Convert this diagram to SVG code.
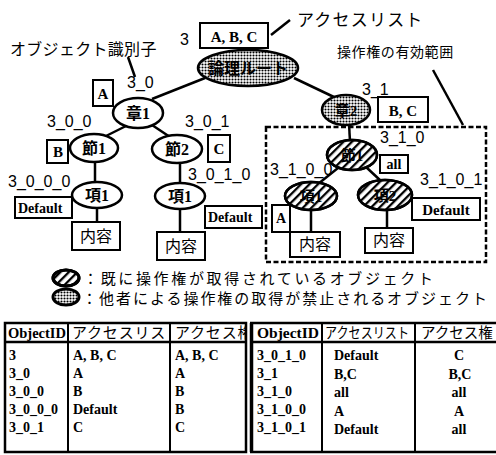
<svg xmlns="http://www.w3.org/2000/svg" width="496" height="455" viewBox="0 0 496 455">
<defs>
<style>
.ln{stroke:#000;stroke-width:2.5;fill:none}
.thin{stroke:#000;stroke-width:2;fill:none}
.box{fill:#fff;stroke:#000;stroke-width:2}
.nd{stroke:#000;stroke-width:2.5}
.wh{fill:#fff}
.lbl{font-family:"Liberation Sans",Arial,sans-serif;font-size:16px;fill:#000}
.jp{font-family:"Noto Sans CJK JP","Noto Sans CJK SC",sans-serif;fill:#000}
.sr{font-family:"Liberation Serif","Noto Sans CJK JP",serif;font-weight:bold;fill:#000}
.tb{font-family:"Liberation Serif","Noto Sans CJK JP",serif;font-weight:bold;font-size:14px;fill:#000}
.th{font-family:"Liberation Serif","Noto Sans CJK JP",serif;font-weight:bold;font-size:14px;fill:#000}
.mid{text-anchor:middle}
</style>
<pattern id="dots" width="3" height="3" patternUnits="userSpaceOnUse"><rect width="3" height="3" fill="#fff"/><circle cx="1.5" cy="1.5" r="1.05" fill="#000"/></pattern>
<pattern id="hatch" width="6" height="6" patternUnits="userSpaceOnUse" patternTransform="rotate(45)"><line x1="1" y1="0" x2="1" y2="6" stroke="#000" stroke-width="2.6"/></pattern>
<clipPath id="c1"><rect x="68" y="323" width="102" height="19"/></clipPath>
<clipPath id="c2"><rect x="170" y="323" width="76" height="19"/></clipPath>
</defs>

<g id="connectors">
<line class="ln" x1="152" y1="99" x2="205" y2="78"/>
<line class="ln" x1="294" y1="78" x2="336" y2="98"/>
<line class="ln" x1="126" y1="126" x2="104" y2="137"/>
<line class="ln" x1="152" y1="125" x2="170" y2="137"/>
<line class="ln" x1="95" y1="161" x2="95" y2="183"/>
<line class="ln" x1="97" y1="207" x2="97" y2="223"/>
<line class="ln" x1="180" y1="162" x2="180" y2="184"/>
<line class="ln" x1="180" y1="208" x2="180" y2="233"/>
<line class="ln" x1="349" y1="124" x2="350" y2="141"/>
<line class="ln" x1="338" y1="168" x2="318" y2="184"/>
<line class="ln" x1="366" y1="167" x2="381" y2="181"/>
<line class="ln" x1="311" y1="209" x2="311" y2="233"/>
<line class="ln" x1="387" y1="209" x2="387" y2="229"/>
</g>

<g id="annotations">
<text class="jp" x="297" y="26" font-size="17" letter-spacing="1.2">アクセスリスト</text>
<line class="ln" x1="290" y1="20" x2="271" y2="35"/>
<text class="jp" x="10" y="55" font-size="16" letter-spacing="0.3">オブジェクト識別子</text>
<line class="ln" x1="128" y1="57" x2="135" y2="77"/>
</g>

<g id="scope">
<rect x="266" y="127" width="220" height="135" fill="none" stroke="#000" stroke-width="2.5" stroke-dasharray="5 2.5"/>
<text class="jp" x="337" y="57" font-size="14" letter-spacing="0.6">操作権の有効範囲</text>
<line class="ln" x1="433" y1="70" x2="463" y2="125"/>
</g>

<g id="n3">
<text class="lbl" x="180" y="45">3</text>
<rect class="box" x="200" y="23" width="68" height="25"/>
<text class="sr mid" x="234" y="42" font-size="15">A, B, C</text>
<ellipse class="nd" cx="248" cy="68" rx="50" ry="18" fill="url(#dots)"/>
<text class="sr mid" x="248" y="74" font-size="16">論理ルート</text>
</g>

<g id="n3_0">
<text class="lbl" x="127" y="88">3_0</text>
<rect class="box" x="93" y="80" width="20" height="26"/>
<text class="sr mid" x="103" y="99" font-size="15">A</text>
<ellipse class="nd wh" cx="138" cy="113" rx="25" ry="15"/>
<text class="sr mid" x="138" y="119" font-size="16">章1</text>
</g>

<g id="n3_0_0">
<text class="lbl" x="47" y="127">3_0_0</text>
<rect class="box" x="47" y="140" width="21" height="23"/>
<text class="sr mid" x="58" y="157" font-size="15">B</text>
<ellipse class="nd wh" cx="94" cy="148" rx="24" ry="14"/>
<text class="sr mid" x="94" y="154" font-size="16">節1</text>
</g>

<g id="n3_0_1">
<text class="lbl" x="185" y="127">3_0_1</text>
<rect class="box" x="208" y="135" width="22" height="27"/>
<text class="sr mid" x="219" y="154" font-size="15">C</text>
<ellipse class="nd wh" cx="177" cy="149" rx="25" ry="14"/>
<text class="sr mid" x="177" y="155" font-size="16">節2</text>
</g>

<g id="n3_0_0_0">
<text class="lbl" x="8" y="187">3_0_0_0</text>
<ellipse class="nd wh" cx="97" cy="195" rx="25" ry="13"/>
<text class="sr mid" x="97" y="201" font-size="16">項1</text>
<rect class="box" x="15" y="197" width="57" height="21"/>
<text class="sr" x="18" y="213" font-size="14">Default</text>
<rect class="box" x="72" y="222" width="48" height="28"/>
<text class="jp mid" x="96" y="242" font-size="16">内容</text>
</g>

<g id="n3_0_1_0">
<text class="lbl" x="188" y="180">3_0_1_0</text>
<ellipse class="nd wh" cx="180" cy="196" rx="25" ry="13"/>
<text class="sr mid" x="180" y="202" font-size="16">項1</text>
<rect class="box" x="205" y="206" width="57" height="22"/>
<text class="sr" x="208" y="222" font-size="14">Default</text>
<rect class="box" x="157" y="232" width="48" height="28"/>
<text class="jp mid" x="181" y="252" font-size="16">内容</text>
</g>

<g id="n3_1">
<text class="lbl" x="362" y="95">3_1</text>
<ellipse class="nd" cx="346" cy="110" rx="24" ry="15" fill="url(#dots)"/>
<text class="sr mid" x="346" y="116" font-size="15">章2</text>
<rect class="box" x="378" y="97" width="50" height="25"/>
<text class="sr mid" x="403" y="116" font-size="15">B, C</text>
</g>

<g id="n3_1_0">
<text class="lbl" x="380" y="143">3_1_0</text>
<ellipse class="nd wh" cx="352" cy="155" rx="25" ry="15"/>
<text class="sr mid" x="352" y="161" font-size="15">節1</text>
<ellipse class="nd" cx="352" cy="155" rx="25" ry="15" fill="url(#hatch)"/>
<rect class="box" x="380" y="155" width="28" height="18"/>
<text class="sr mid" x="394" y="169" font-size="14">all</text>
</g>

<g id="n3_1_0_0">
<text class="lbl" x="270" y="175">3_1_0_0</text>
<ellipse class="nd wh" cx="311" cy="196" rx="26" ry="14"/>
<text class="sr mid" x="311" y="202" font-size="15">項1</text>
<ellipse class="nd" cx="311" cy="196" rx="26" ry="14" fill="url(#hatch)"/>
<rect class="box" x="272" y="205" width="18" height="27"/>
<text class="sr mid" x="281" y="223" font-size="14">A</text>
<rect class="box" x="290" y="232" width="50" height="25"/>
<text class="jp mid" x="315" y="250" font-size="16">内容</text>
</g>

<g id="n3_1_0_1">
<text class="lbl" x="420" y="185">3_1_0_1</text>
<ellipse class="nd wh" cx="385" cy="195" rx="27" ry="15"/>
<text class="sr mid" x="385" y="201" font-size="15">項2</text>
<ellipse class="nd" cx="385" cy="195" rx="27" ry="15" fill="url(#hatch)"/>
<rect class="box" x="412" y="198" width="68" height="22"/>
<text class="sr mid" x="446" y="215" font-size="15">Default</text>
<rect class="box" x="365" y="228" width="48" height="25"/>
<text class="jp mid" x="389" y="246" font-size="16">内容</text>
</g>

<g id="legend">
<ellipse cx="66" cy="278" rx="13" ry="8" fill="#fff" stroke="#000" stroke-width="3"/>
<ellipse cx="66" cy="278" rx="13" ry="8" fill="url(#hatch)" stroke="#000" stroke-width="3"/>
<text class="jp" x="83" y="284" font-size="15" textLength="350" lengthAdjust="spacing">：既に操作権が取得されているオブジェクト</text>
<ellipse cx="66" cy="297" rx="13" ry="8" fill="url(#dots)" stroke="#000" stroke-width="3"/>
<text class="jp" x="82" y="304" font-size="15" textLength="405" lengthAdjust="spacing">：他者による操作権の取得が禁止されるオブジェクト</text>
</g>

<g id="table-left">
<rect x="5" y="323" width="241" height="129" fill="none" stroke="#000" stroke-width="2.5"/>
<line class="ln" x1="5" y1="342" x2="246" y2="342"/>
<line class="thin" x1="68" y1="323" x2="68" y2="452"/>
<line class="thin" x1="170" y1="323" x2="170" y2="452"/>
<text class="th" x="8" y="338" textLength="58" lengthAdjust="spacingAndGlyphs">ObjectID</text>
<g clip-path="url(#c1)"><text class="jp" x="72" y="338" font-size="15" letter-spacing="0.8">アクセスリスト</text></g>
<g clip-path="url(#c2)"><text class="jp" x="175" y="338" font-size="15" letter-spacing="0.8">アクセス権</text></g>
<text class="tb" x="9" y="360">3</text><text class="tb" x="73" y="360">A, B, C</text><text class="tb" x="175" y="360">A, B, C</text>
<text class="tb" x="9" y="378">3_0</text><text class="tb" x="73" y="378">A</text><text class="tb" x="175" y="378">A</text>
<text class="tb" x="9" y="396">3_0_0</text><text class="tb" x="73" y="396">B</text><text class="tb" x="175" y="396">B</text>
<text class="tb" x="9" y="414">3_0_0_0</text><text class="tb" x="73" y="414">Default</text><text class="tb" x="175" y="414">B</text>
<text class="tb" x="9" y="432">3_0_1</text><text class="tb" x="73" y="432">C</text><text class="tb" x="175" y="432">C</text>
</g>

<g id="table-right">
<line x1="251.5" y1="323" x2="251.5" y2="452" stroke="#000" stroke-width="3.5"/>
<line class="ln" x1="250" y1="323" x2="496" y2="323"/>
<line class="ln" x1="250" y1="452" x2="496" y2="452"/>
<line class="ln" x1="250" y1="342" x2="496" y2="342"/>
<line class="thin" x1="322" y1="323" x2="322" y2="452"/>
<line class="thin" x1="415" y1="323" x2="415" y2="452"/>
<text class="th" x="257" y="338" textLength="62" lengthAdjust="spacingAndGlyphs">ObjectID</text>
<text class="jp" x="325" y="338" font-size="14.5" textLength="84" lengthAdjust="spacingAndGlyphs">アクセスリスト</text>
<text class="jp" x="421" y="338" font-size="14.5">アクセス権</text>
<text class="tb" x="257" y="360">3_0_1_0</text><text class="tb" x="334" y="360">Default</text><text class="tb mid" x="459" y="360">C</text>
<text class="tb" x="257" y="378">3_1</text><text class="tb" x="334" y="379">B,C</text><text class="tb mid" x="460" y="379">B,C</text>
<text class="tb" x="257" y="396">3_1_0</text><text class="tb" x="334" y="397">all</text><text class="tb mid" x="459" y="397">all</text>
<text class="tb" x="257" y="414">3_1_0_0</text><text class="tb" x="334" y="416">A</text><text class="tb mid" x="459" y="416">A</text>
<text class="tb" x="257" y="432">3_1_0_1</text><text class="tb" x="334" y="434">Default</text><text class="tb mid" x="459" y="434">all</text>
</g>
</svg>
